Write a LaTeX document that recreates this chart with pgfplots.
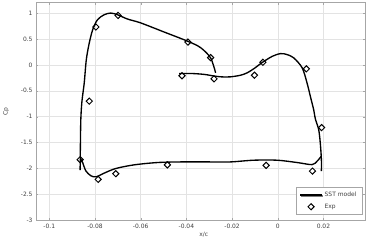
\documentclass[border=0pt]{standalone}
\usepackage{fontspec}
\setmainfont{DejaVu Sans}
\usepackage{pgfplots}
\pgfplotsset{compat=1.18}
\usetikzlibrary{shadows}
\pgfplotsset{
  sstleg/.style={legend image code/.code={\draw[##1] (0bp,0bp) -- (22bp,0bp);}},
  expleg/.style={legend image code/.code={\draw[mark repeat=1,mark phase=1,##1] plot coordinates {(11bp,0bp)};}},
}
\begin{document}
\begin{tikzpicture}
\begin{axis}[
  scale only axis, width=330bp, height=218.3bp,
  xmin=-0.1058, xmax=0.0382, ymin=-3, ymax=1.2,
  xtick={-0.1,-0.08,-0.06,-0.04,-0.02,0,0.02},
  ytick={-3,-2.5,-2,-1.5,-1,-0.5,0,0.5,1},
  grid=major, major grid style={gray!22, line width=0.45pt},
  axis line style={gray!70, line width=0.7pt},
  tick style={gray!70}, major tick length=2bp, tick align=inside,
  ticklabel style={font=\fontsize{6}{7}\selectfont, text=black!75},
  /pgf/number format/assume math mode=true,
  xticklabel style={/pgf/number format/fixed, /pgf/number format/precision=2},
  yticklabel style={/pgf/number format/fixed, /pgf/number format/precision=1},
  xlabel={x/c}, ylabel={Cp},
  label style={font=\fontsize{6}{7}\selectfont, text=black!75},
  xlabel style={at={(axis description cs:0.51,-0.066)}, anchor=center},
  ylabel style={at={(axis description cs:-0.0909,0.5)}, anchor=center},
  legend style={at={(1,0)}, anchor=south east, xshift=-3bp, yshift=6bp,
    draw=gray!70, fill=white, font=\fontsize{6}{7}\selectfont, text=black!75,
    drop shadow={shadow xshift=1.2bp, shadow yshift=-1.2bp, fill=gray!45},
    inner xsep=3.5bp, inner ysep=2.5bp, row sep=2bp},
  legend cell align=left,
]
\addplot[black, line width=1.35pt, smooth, tension=0.5, sstleg]
coordinates {
(-0.0865,-2.03) (-0.0864,-1.6) (-0.0862,-1.05) (-0.0857,-0.7) (-0.0847,-0.346)
(-0.0838,0.10) (-0.0825,0.423) (-0.0810,0.679) (-0.0789,0.871) (-0.0760,0.967)
(-0.0731,1.0) (-0.0701,0.967) (-0.0658,0.885) (-0.060,0.81) (-0.0498,0.635)
(-0.0393,0.454) (-0.0338,0.333) (-0.0294,0.135) (-0.0272,-0.154)
};
\addlegendentry{SST model}
\addplot[black, line width=1.35pt, smooth, tension=0.5, forget plot]
coordinates {
(-0.0432,-0.167) (-0.037,-0.168) (-0.032,-0.185) (-0.0279,-0.215) (-0.0245,-0.232)
(-0.0207,-0.231) (-0.0163,-0.20) (-0.0134,-0.154) (-0.0100,-0.06) (-0.0070,0.04)
(-0.0024,0.165) (0.0012,0.217) (0.0040,0.20) (0.0070,0.135) (0.0107,-0.058)
(0.0128,-0.346) (0.0146,-0.667) (0.0157,-0.86) (0.0165,-1.05) (0.0179,-1.244)
(0.0186,-1.5) (0.0191,-1.82) (0.0191,-2.05)
};
\addplot[black, line width=1.35pt, smooth, tension=0.5, forget plot]
coordinates {
(-0.0862,-1.82) (-0.0854,-1.885) (-0.0840,-2.046) (-0.0818,-2.14) (-0.0795,-2.16)
(-0.0760,-2.09) (-0.0709,-2.0) (-0.0629,-1.93) (-0.0527,-1.885) (-0.0425,-1.873)
(-0.0300,-1.873) (-0.0207,-1.873) (-0.0105,-1.84) (-0.0003,-1.84) (0.0085,-1.885)
(0.0150,-1.925) (0.0172,-1.86) (0.0191,-1.76)
};
\addplot[only marks, mark=square, mark size=2.2bp, black, line width=1pt,
  mark options={rotate=45, fill=white}, expleg]
coordinates {
(-0.0796,0.73) (-0.0699,0.954) (-0.0393,0.44) (-0.0419,-0.21) (-0.0825,-0.70)
(-0.0294,0.14) (-0.0279,-0.27) (-0.0102,-0.20) (-0.0065,0.05) (0.0125,-0.077)
(0.0192,-1.21) (-0.0051,-1.94) (0.0152,-2.05) (-0.0865,-1.83) (-0.0786,-2.21)
(-0.0709,-2.10) (-0.0483,-1.93)
};
\addlegendentry{Exp}
\end{axis}
\path (current axis.south west) ++(-35bp,-19bp) rectangle ([xshift=7bp,yshift=2.7bp]current axis.north east);
\end{tikzpicture}
\end{document}
